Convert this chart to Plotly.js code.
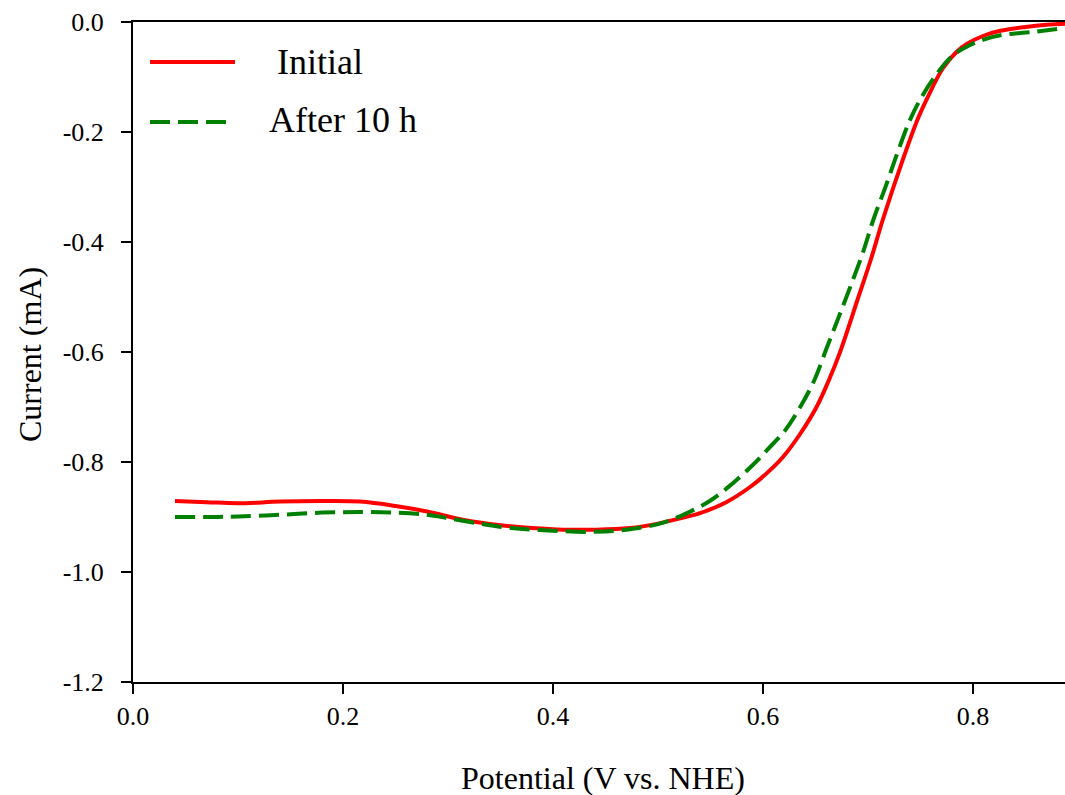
<!DOCTYPE html>
<html>
<head>
<meta charset="utf-8">
<script src="https://cdn.plot.ly/plotly-3.0.1.min.js"></script>
<style>html,body{margin:0;padding:0;background:#fff;}#chart{width:1065px;height:795px;}</style>
</head>
<body>
<div id="chart"></div>
<script>
// Initial curve
const initialX = [0.04, 0.07, 0.10, 0.14, 0.18, 0.216, 0.25, 0.28, 0.314, 0.35, 0.38, 0.41, 0.44, 0.473, 0.50, 0.52, 0.54, 0.565, 0.588, 0.605, 0.619, 0.635, 0.651, 0.663, 0.673, 0.690, 0.703, 0.714, 0.733, 0.747, 0.757, 0.771, 0.784, 0.794, 0.81, 0.826, 0.85, 0.87, 0.888];
const initialY = [-0.871, -0.873, -0.875, -0.872, -0.871, -0.872, -0.880, -0.890, -0.905, -0.915, -0.920, -0.923, -0.923, -0.920, -0.912, -0.903, -0.893, -0.873, -0.845, -0.818, -0.791, -0.750, -0.700, -0.650, -0.602, -0.505, -0.430, -0.360, -0.251, -0.178, -0.136, -0.085, -0.055, -0.040, -0.025, -0.016, -0.009, -0.005, -0.003];
// After 10 h curve
const afterX = [0.04, 0.07, 0.10, 0.14, 0.18, 0.216, 0.25, 0.28, 0.30, 0.33, 0.36, 0.40, 0.44, 0.47, 0.50, 0.524, 0.55, 0.571, 0.59, 0.604, 0.62, 0.632, 0.648, 0.661, 0.672, 0.683, 0.695, 0.705, 0.717, 0.728, 0.740, 0.750, 0.766, 0.78, 0.794, 0.81, 0.826, 0.857, 0.888];
const afterY = [-0.900, -0.900, -0.899, -0.896, -0.892, -0.891, -0.892, -0.896, -0.902, -0.912, -0.920, -0.925, -0.927, -0.923, -0.913, -0.896, -0.870, -0.839, -0.806, -0.778, -0.745, -0.711, -0.655, -0.591, -0.537, -0.482, -0.420, -0.360, -0.298, -0.238, -0.178, -0.140, -0.093, -0.062, -0.045, -0.032, -0.024, -0.018, -0.011];

const seriesNames = ["Initial", "After 10 h"];
const xTicks = [0.0, 0.2, 0.4, 0.6, 0.8];
const xTickText = ["0.0", "0.2", "0.4", "0.6", "0.8"];
const yTicks = [0.0, -0.2, -0.4, -0.6, -0.8, -1.0, -1.2];
const yTickText = ["0.0", "-0.2", "-0.4", "-0.6", "-0.8", "-1.0", "-1.2"];

const FONT = "Liberation Serif, Times New Roman, serif";
const RED = "#ff0000";
const GREEN = "#008000";

const traces = [
  {x: initialX, y: initialY, type: "scatter", mode: "lines", name: seriesNames[0],
   line: {color: RED, width: 4, shape: "spline", smoothing: 1.0}},
  {x: afterX, y: afterY, type: "scatter", mode: "lines", name: seriesNames[1],
   line: {color: GREEN, width: 4, dash: "20px,8px", shape: "spline", smoothing: 1.0}}
];

// plot area in pixels: left 133, right 1065, top 22, bottom 682
const L = 133, R = 1065, T = 22, B = 682;
const px = v => (v - L) / (R - L);
const py = v => (B - v) / (B - T);

const layout = {
  width: 1065, height: 795,
  margin: {l: L, r: 1065 - R, t: T, b: 795 - B, pad: 0},
  paper_bgcolor: "#fff", plot_bgcolor: "#fff",
  showlegend: false,
  font: {family: FONT, color: "#000", size: 26},
  xaxis: {
    range: [0, 0.8876], tickvals: xTicks, ticktext: xTickText,
    showgrid: false, zeroline: false, showline: true, linecolor: "#000", linewidth: 2,
    mirror: true, ticks: "outside", ticklen: 10, tickwidth: 2, tickcolor: "#000",
    tickfont: {family: FONT, size: 26, color: "#000"}
  },
  yaxis: {
    range: [-1.2, 0], tickvals: yTicks, ticktext: yTickText,
    showgrid: false, zeroline: false, showline: true, linecolor: "#000", linewidth: 2,
    ticks: "outside", ticklen: 10, tickwidth: 2, tickcolor: "#000",
    tickfont: {family: FONT, size: 26, color: "#000"}, ticklabelstandoff: 12
  },
  shapes: [
    {type: "line", xref: "paper", yref: "paper", x0: px(150), x1: px(235), y0: py(62), y1: py(62),
     line: {color: RED, width: 4}},
    {type: "line", xref: "paper", yref: "paper", x0: px(150), x1: px(226), y0: py(122), y1: py(122),
     line: {color: GREEN, width: 4, dash: "20px,8px"}}
  ],
  annotations: [
    {text: seriesNames[0], xref: "paper", yref: "paper", x: px(275), y: py(62), xanchor: "left", yanchor: "middle",
     showarrow: false, font: {family: FONT, size: 36, color: "#000"}},
    {text: seriesNames[1], xref: "paper", yref: "paper", x: px(267), y: py(120), xanchor: "left", yanchor: "middle",
     showarrow: false, font: {family: FONT, size: 36, color: "#000"}},
    {text: "Potential (V vs. NHE)", xref: "paper", yref: "paper", x: px(603), y: py(778), xanchor: "center", yanchor: "middle",
     showarrow: false, font: {family: FONT, size: 32, color: "#000"}},
    {text: "Current (mA)", xref: "paper", yref: "paper", x: px(30), y: py(355), xanchor: "center", yanchor: "middle",
     textangle: -90, showarrow: false, font: {family: FONT, size: 32, color: "#000"}}
  ]
};

Plotly.newPlot("chart", traces, layout, {displayModeBar: false, staticPlot: true});
</script>
</body>
</html>
